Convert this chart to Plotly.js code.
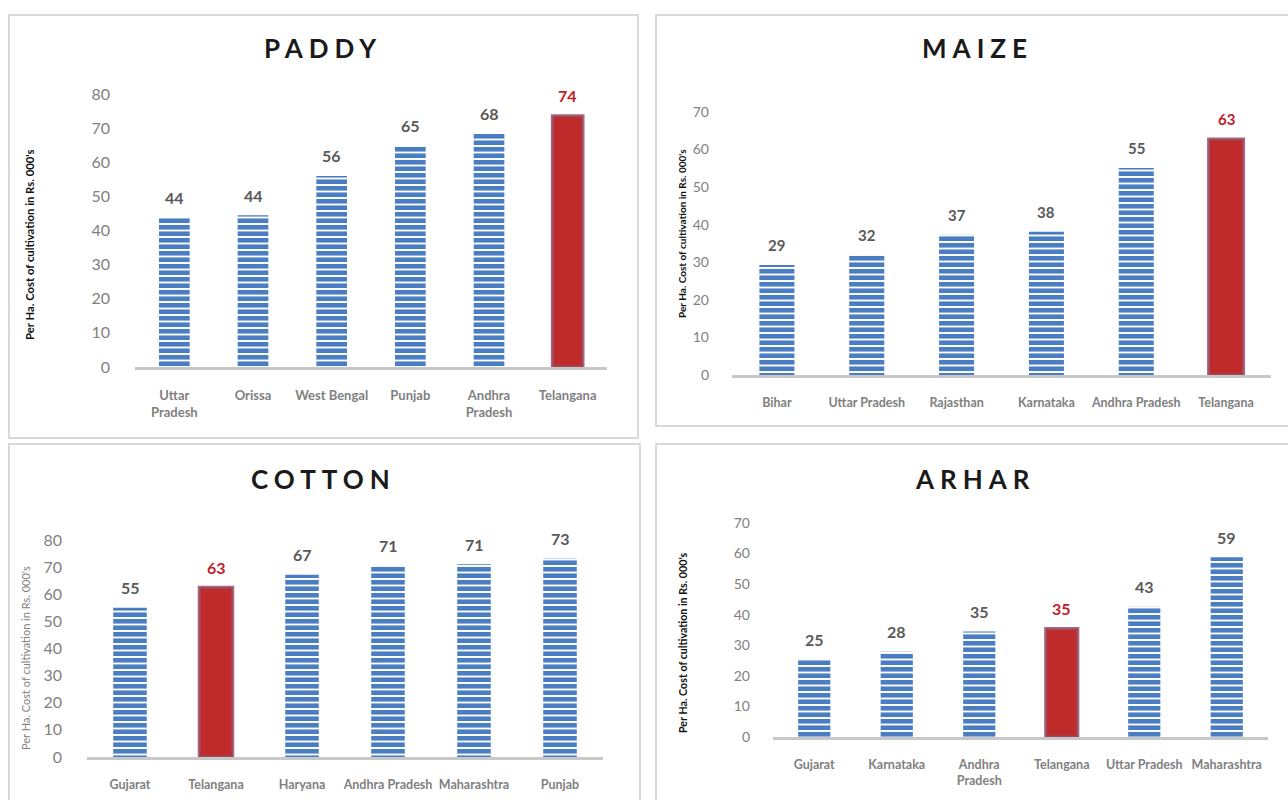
<!DOCTYPE html>
<html><head><meta charset="utf-8">
<script src="https://cdn.plot.ly/plotly-3.0.1.min.js"></script>
<style>html,body{margin:0;padding:0;background:#fff;overflow:hidden}</style>
</head><body><div id="chart" style="width:1288px;height:800px"></div>
<script>
// ---------- DATA ----------
const paddyStates = ['Uttar Pradesh','Orissa','West Bengal','Punjab','Andhra Pradesh','Telangana'];
const paddyTicks  = ['Uttar<br>Pradesh','Orissa','West Bengal','Punjab','Andhra<br>Pradesh','Telangana'];
const paddyCost   = [43.7, 44.5, 56.0, 64.8, 68.3, 73.6];
const paddyLabels = ['44','44','56','65','68','74'];

const maizeStates = ['Bihar','Uttar Pradesh','Rajasthan','Karnataka','Andhra Pradesh','Telangana'];
const maizeTicks  = ['Bihar','Uttar Pradesh','Rajasthan','Karnataka','Andhra Pradesh','Telangana'];
const maizeCost   = [29.3, 31.9, 37.3, 38.1, 55.1, 62.8];
const maizeLabels = ['29','32','37','38','55','63'];

const cottonStates = ['Gujarat','Telangana','Haryana','Andhra Pradesh','Maharashtra','Punjab'];
const cottonTicks  = ['Gujarat','Telangana','Haryana','Andhra Pradesh','Maharashtra','Punjab'];
const cottonCost   = [55.0, 62.6, 67.2, 70.6, 71.1, 73.2];
const cottonLabels = ['55','63','67','71','71','73'];

const arharStates = ['Gujarat','Karnataka','Andhra Pradesh','Telangana','Uttar Pradesh','Maharashtra'];
const arharTicks  = ['Gujarat','Karnataka','Andhra<br>Pradesh','Telangana','Uttar Pradesh','Maharashtra'];
const arharCost   = [25.2, 27.9, 34.5, 35.5, 42.6, 58.8];
const arharLabels = ['25','28','35','35','43','59'];

const titles = ['PADDY','MAIZE','COTTON','ARHAR'];
const yTitle = "Per Ha. Cost of cultivation in Rs. 000's";
const yMax = [80, 70, 80, 70];
const highlight = 'Telangana';

// ---------- STYLE / LAYOUT ----------
const W = 1288, H = 800;
const fx = x => x / W, fy = y => 1 - y / H;
const FONT = 'Lato, "Open Sans", sans-serif';
const BLUE = '#4a7dc1', RED = '#bf2a2b', STRIPE = '#e6ecf6';

const panels = [
  {states: paddyStates, ticks: paddyTicks, cost: paddyCost, labels: paddyLabels,
   x0:135, x1:607, y0:367, y1:94, box:[9,15,638,438], titleX:323, titleY:48,
   tickSize:16, labSize:16, xSize:13, yt:{x:29, y:245, size:11.3, bold:true, color:'#111'}, xStand:14, yStand:24},
  {states: maizeStates, ticks: maizeTicks, cost: maizeCost, labels: maizeLabels,
   x0:732, x1:1271, y0:375, y1:112, box:[656,15,1300,426], titleX:977, titleY:48,
   tickSize:14, labSize:15, xSize:12.5, yt:{x:682, y:234, size:10, bold:true, color:'#111'}, xStand:14, yStand:22},
  {states: cottonStates, ticks: cottonTicks, cost: cottonCost, labels: cottonLabels,
   x0:87, x1:603, y0:757, y1:540, box:[9,444,640,820], titleX:323, titleY:479,
   tickSize:16, labSize:16, xSize:12.5, yt:{x:25, y:658, size:11, bold:false, color:'#808080'}, xStand:14, yStand:24},
  {states: arharStates, ticks: arharTicks, cost: arharCost, labels: arharLabels,
   x0:773, x1:1268, y0:737, y1:523, box:[656,444,1300,820], titleX:975, titleY:479,
   tickSize:14, labSize:16, xSize:12.5, yt:{x:682, y:643, size:10.7, bold:true, color:'#111'}, xStand:14, yStand:22}
];

const data = [];
const annotations = [];
const shapes = [];
const layout = {
  width: W, height: H, margin: {l:0, r:0, t:0, b:0},
  paper_bgcolor: '#fff', plot_bgcolor: 'rgba(0,0,0,0)',
  showlegend: false, font: {family: FONT},
  annotations, shapes
};

panels.forEach((p, i) => {
  const n = i === 0 ? '' : String(i + 1);
  const xa = 'x' + n, ya = 'y' + n;
  const isHi = p.states.map(s => s === highlight);
  const colors = isHi.map(h => h ? RED : BLUE);
  data.push({
    type: 'bar', x: p.states, y: p.cost, xaxis: xa, yaxis: ya,
    width: p.states.map(() => 0.39),
    hoverinfo: 'skip',
    marker: {
      color: colors,
      line: {color: isHi.map(h => h ? 'rgba(150,80,105,0.85)' : 'rgba(0,0,0,0)'),
             width: isHi.map(h => h ? 3 : 0)},
      pattern: {shape: isHi.map(h => h ? '' : '-'), fillmode: 'replace',
                fgcolor: colors, bgcolor: isHi.map(h => h ? RED : STRIPE),
                size: 6.5, solidity: 0.72}
    }
  });
  layout['xaxis' + n] = {
    domain: [fx(p.x0), fx(p.x1)], anchor: ya, type: 'category',
    tickmode: 'array', tickvals: p.states, ticktext: p.ticks,
    showgrid: false, zeroline: false, showline: true, linecolor: '#c8c8c8', linewidth: 3,
    ticks: '', ticklabelstandoff: p.xStand, fixedrange: true,
    tickfont: {family: FONT, size: p.xSize, color: '#7f7f7f', weight: 700}
  };
  layout['yaxis' + n] = {
    domain: [fy(p.y0), fy(p.y1)], anchor: xa, range: [0, yMax[i]], dtick: 10,
    showgrid: false, zeroline: false, showline: false, ticks: '',
    ticklabelstandoff: p.yStand, fixedrange: true,
    tickfont: {family: FONT, size: p.tickSize, color: '#808080'}
  };
  p.states.forEach((s, j) => {
    annotations.push({
      xref: xa, yref: ya, x: s, y: p.cost[j], text: p.labels[j], showarrow: false,
      yanchor: 'middle', yshift: 20,
      font: {family: FONT, size: p.labSize, weight: 700, color: isHi[j] ? '#c0202a' : '#595959'}
    });
  });
  annotations.push({
    xref: 'paper', yref: 'paper', x: fx(p.titleX), y: fy(p.titleY), text: titles[i],
    showarrow: false, xanchor: 'center', yanchor: 'middle',
    font: {family: FONT, size: 26, weight: 700, color: '#1a1a1a'}
  });
  annotations.push({
    xref: 'paper', yref: 'paper', x: fx(p.yt.x), y: fy(p.yt.y), text: yTitle,
    showarrow: false, textangle: -90, xanchor: 'center', yanchor: 'middle',
    font: {family: FONT, size: p.yt.size, weight: p.yt.bold ? 700 : 400, color: p.yt.color}
  });
  const b = p.box;
  shapes.push({type: 'rect', xref: 'paper', yref: 'paper', layer: 'below',
    x0: fx(b[0]), x1: fx(b[2]), y0: fy(b[3]), y1: fy(b[1]),
    line: {color: '#d9d9d9', width: 2}, fillcolor: 'rgba(0,0,0,0)'});
});

Plotly.newPlot('chart', data, layout, {displayModeBar: false, staticPlot: true}).then(() => {
  document.querySelectorAll('.annotation-text').forEach(t => {
    if (titles.includes(t.textContent)) t.style.letterSpacing = '6px';
  });
});
</script></body></html>
